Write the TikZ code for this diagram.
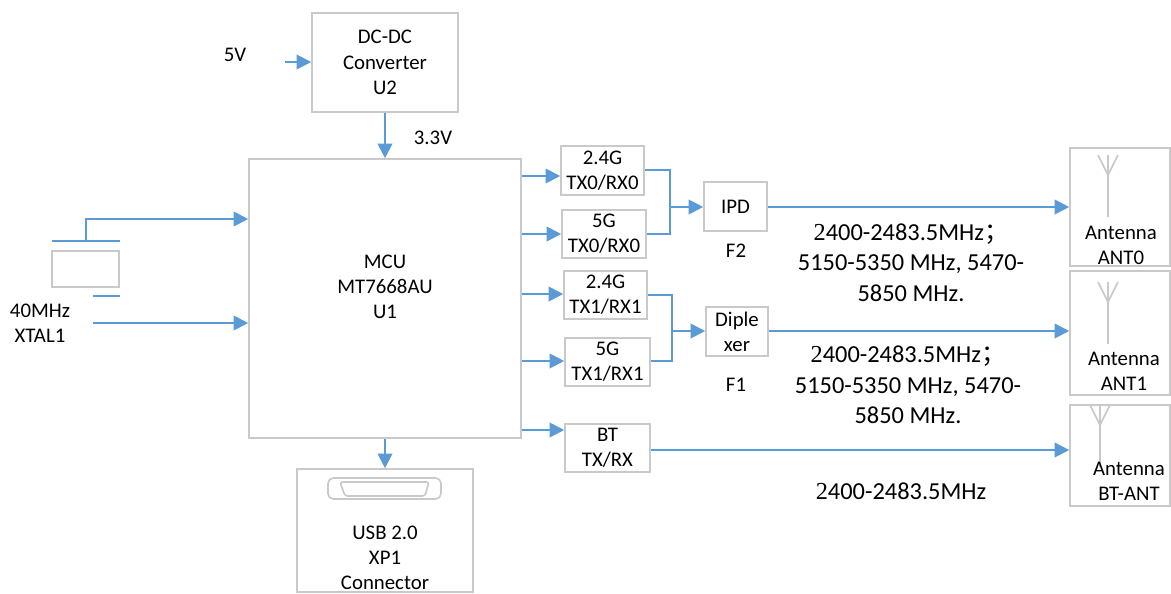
\documentclass[tikz,border=0pt]{standalone}
\usepackage{fontspec}
\setmainfont{Carlito}
\newfontfamily\cjkf{Noto Sans CJK SC}
\newfontfamily\serf{Liberation Serif}
\usetikzlibrary{arrows.meta,calc}
\definecolor{bluel}{HTML}{5B9BD5}
\definecolor{greyl}{HTML}{C9C9C9}
\newcommand{\freqa}{{\serf 2}400-2483.5MHz}
\tikzset{
  x=0.75pt,y=-0.75pt,
  box/.style={draw=greyl,line width=1.2pt,fill=white,inner sep=0pt,align=center,font=\fontsize{15.6}{18.9}\selectfont},
  conn/.style={draw=bluel,line width=1.5pt},
  arr/.style={conn,-{Triangle[length=11pt,width=11pt]}},
  ant/.style={draw=greyl,line width=1.2pt},
  lab/.style={inner sep=0pt,align=center,font=\fontsize{15.6}{18.8}\selectfont},
  freq/.style={inner sep=0pt,align=center,font=\fontsize{18.3}{22.7}\selectfont},
}
\newcommand{\bx}[6]{\node[box,minimum width=#4*0.75pt-#2*0.75pt,minimum height=#5*0.75pt-#3*0.75pt] (#1) at ({(#2+#4)/2},{(#3+#5)/2}) {#6};}
\newcommand{\antenna}[2]{\draw[ant] (#1,#2) -- (#1,#2+49) (#1-10,#2-13) -- (#1,#2+7) -- (#1+10,#2-13) (#1,#2-13) -- (#1,#2);}
\begin{document}
\begin{tikzpicture}
\useasboundingbox (0,0) rectangle (1171,593);
\bx{dc}{312}{13}{458}{112}{DC-DC\\Converter\\U2}
\bx{mcu}{249}{159}{521}{438}{}
\node[lab] (mcut) at (385,287) {MCU\\MT7668AU\\U1};
\bx{usb}{297}{469}{473}{592}{}
\node[lab] (usbt) at (385,558) {USB 2.0\\XP1\\Connector};
\draw[ant,fill=white,rounded corners=4pt] (328,478) rectangle (441,499);
\draw[ant,rounded corners=2pt] (340,482) -- (429,482) -- (425,496) -- (345,496) -- cycle;
\bx{ta}{561}{146}{644}{195}{2.4G\\TX0/RX0}
\bx{tb}{562}{210}{646}{258}{5G\\TX0/RX0}
\bx{tc}{564}{271}{647}{319}{2.4G\\TX1/RX1}
\bx{td}{565}{338}{650}{386}{5G\\TX1/RX1}
\bx{bt}{565}{424}{650}{472}{BT\\TX/RX}
\bx{ipd}{704}{182}{767}{231}{IPD}
\bx{dip}{706}{307}{768}{356}{Diple\\xer}
\bx{a0}{1070}{148}{1170}{266}{}
\bx{a1}{1070}{271}{1170}{395}{}
\bx{a2}{1070}{405}{1170}{506}{}
\antenna{1108}{168}
\antenna{1108}{295}
\antenna{1100}{418}
\node[lab] (a0t) at (1121,245) {Antenna\\ANT0};
\node[lab] (a1t) at (1124,371) {Antenna\\ANT1};
\node[lab] (a2t) at (1129,481) {Antenna\\BT-ANT};
\node[lab] (v5) at (235,55) {5V};
\node[lab] (v33) at (433,138) {3.3V};
\node[lab] (xt) at (40,323) {40MHz\\XTAL1};
\node[lab] (f2) at (736,251) {F2};
\node[lab] (f1) at (736,385) {F1};
\node[freq] (fa) at (911,262.5) {\freqa{\cjkf ；}\\5150-5350 MHz, 5470-\\5850 MHz.};
\node[freq] (fb) at (908,385) {\freqa{\cjkf ；}\\5150-5350 MHz, 5470-\\5850 MHz.};
\node[freq] (fc) at (901,491) {\freqa};
% crystal
\bx{xb}{52}{251}{119}{287}{}
\coordinate (pl) at (52,241); \coordinate (pr) at (120,241);
\coordinate (ql) at (93,296); \coordinate (qr) at (120,296);
\draw[conn] (pl) -- (pr);
\draw[conn] (ql) -- (qr);
\coordinate (pm) at (86,241);
\coordinate (x2) at (93,323);
\draw[arr] (pm) |- (mcu.west |- 0,219);
\draw[arr] (x2) -- (mcu.west |- x2);
\coordinate (v5e) at (285,62);
\draw[arr] (v5e) -- (dc.west |- v5e);
\draw[arr] (dc.south -| 385,0) -- (mcu.north -| 385,0);
\draw[arr] (mcu.south -| 385,0) -- (usb.north -| 385,0);
\draw[arr] (mcu.east |- 0,176) -- (ta.west |- 0,176);
\draw[arr] (mcu.east |- 0,234) -- (tb.west |- 0,234);
\draw[arr] (mcu.east |- 0,294) -- (tc.west |- 0,294);
\draw[arr] (mcu.east |- 0,361) -- (td.west |- 0,361);
\draw[arr] (mcu.east |- 0,430) -- (bt.west |- 0,430);
\coordinate (ja) at (670,207);
\coordinate (jb) at (672,331);
\draw[conn] (ta.east |- 0,170) -| (ja);
\draw[conn] (tb.east |- 0,234) -| (ja);
\draw[arr] (ja) -- (ipd.west |- ja);
\draw[conn] (tc.east |- 0,295) -| (jb);
\draw[conn] (td.east |- 0,361) -| (jb);
\draw[arr] (jb) -- (dip.west |- jb);
\draw[arr] (ipd.east |- 0,207) -- (a0.west |- 0,207);
\draw[arr] (dip.east |- 0,331) -- (a1.west |- 0,331);
\draw[arr] (bt.east |- 0,450) -- (a2.west |- 0,450);
\end{tikzpicture}
\end{document}
